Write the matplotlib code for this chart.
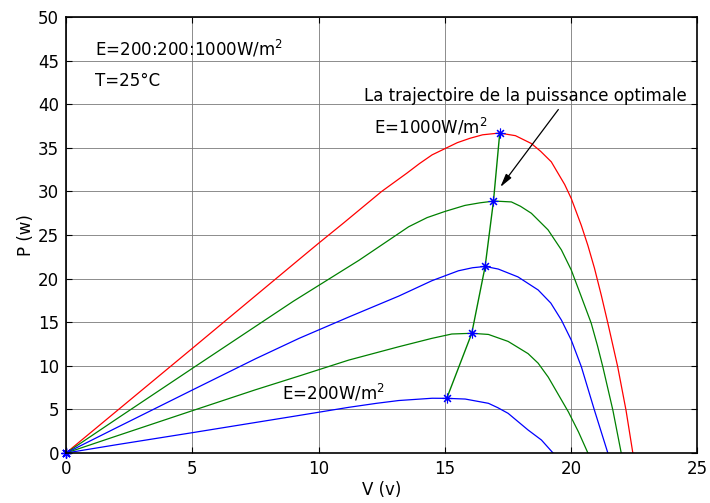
import matplotlib
matplotlib.use("Agg")
import matplotlib.pyplot as plt

plt.rcParams['font.family'] = ['DejaVu Sans']

# P-V curves, one pair of lists per irradiance
v_1000 = [0, 2, 5, 9.23, 10, 11, 12, 12.5, 13.5, 14, 14.5, 15, 15.5, 16, 16.5, 17.16, 17.8, 18.43, 18.8, 19.22, 19.75, 20.01, 20.41, 20.67, 20.93, 21.2, 21.46, 21.85, 22.18, 22.45]
p_1000 = [0, 4.8, 12.0, 22.2, 24.05, 26.4, 28.8, 30.0, 32.1, 33.2, 34.2, 34.9, 35.6, 36.1, 36.5, 36.7, 36.4, 35.5, 34.6, 33.4, 30.8, 29.2, 26.1, 23.8, 21.2, 18.1, 14.9, 9.9, 4.9, 0]

v_800 = [0, 2, 5, 9, 11.6, 13.57, 14.3, 15.0, 15.8, 16.4, 16.96, 17.64, 18.0, 18.43, 19.09, 19.62, 20.01, 20.4, 20.8, 21.05, 21.26, 21.66, 21.99]
p_800 = [0, 3.9, 9.7, 17.4, 22.1, 25.95, 27.0, 27.7, 28.4, 28.7, 28.9, 28.8, 28.3, 27.5, 25.6, 23.3, 21.0, 18.0, 14.9, 12.3, 9.9, 4.9, 0]

v_600 = [0, 2, 5, 7.5, 9.23, 11.2, 13.18, 14.49, 15.54, 16.1, 16.6, 17.12, 17.9, 18.7, 19.2, 19.62, 20.01, 20.41, 20.93, 21.46]
p_600 = [0, 2.9, 7.22, 10.8, 13.15, 15.6, 18.0, 19.76, 20.9, 21.25, 21.4, 21.1, 20.2, 18.7, 17.2, 15.25, 12.96, 9.9, 4.9, 0]

v_400 = [0, 2, 5, 7.5, 9.23, 11.2, 13.18, 14.49, 15.28, 16.07, 16.73, 17.51, 18.3, 18.7, 19.1, 19.5, 19.9, 20.3, 20.67]
p_400 = [0, 1.95, 4.85, 7.25, 8.83, 10.66, 12.19, 13.15, 13.65, 13.73, 13.6, 12.8, 11.4, 10.3, 8.7, 6.7, 4.7, 2.4, 0]

v_200 = [0, 2, 5, 9, 11.2, 12.3, 13.18, 14.5, 15.08, 15.81, 16.73, 17.1, 17.51, 18.3, 18.83, 19.29]
p_200 = [0, 0.95, 2.33, 4.2, 5.24, 5.7, 6.02, 6.28, 6.27, 6.19, 5.7, 5.2, 4.55, 2.64, 1.49, 0]

# maximum power points
v_mpp = [15.08, 16.07, 16.6, 16.93, 17.18]
p_mpp = [6.27, 13.73, 21.4, 28.9, 36.75]

fig = plt.figure(figsize=(7.1, 5.03), dpi=100)
ax = fig.add_axes([0.093, 0.0994, 0.889, 0.8666])

ax.plot(v_1000, p_1000, color='red', lw=0.9)
ax.plot(v_800, p_800, color='green', lw=0.9)
ax.plot(v_600, p_600, color='blue', lw=0.9)
ax.plot(v_400, p_400, color='green', lw=0.9)
ax.plot(v_200, p_200, color='blue', lw=0.9)

ax.plot(v_mpp, p_mpp, color='green', lw=1.0)
ax.plot(v_mpp, p_mpp, ls='none', marker=(8, 2, 0), ms=7, mec='blue', mew=0.8)
ax.plot([0] * 5, [0] * 5, ls='none', marker=(8, 2, 0), ms=7, mec='blue', mew=0.8, clip_on=False)

ax.set_xlim(0, 25)
ax.set_ylim(0, 50)
ax.set_xticks(range(0, 26, 5))
ax.set_yticks(range(0, 51, 5))
ax.grid(True, color='#7a7a7a', ls='-', lw=0.6)
ax.set_axisbelow(True)
ax.tick_params(direction='in', top=True, right=True, labelsize=12, length=4, pad=5)
for s in ax.spines.values():
    s.set_linewidth(1.2)

ax.set_xlabel('V (v)', fontsize=12, labelpad=2)
ax.set_ylabel('P (w)', fontsize=12, labelpad=2)

ax.text(1.15, 46.4, 'E=200:200:1000W/m$^2$', fontsize=12, va='center')
ax.text(1.15, 42.7, 'T=25°C', fontsize=12, va='center')
ax.text(12.2, 37.4, 'E=1000W/m$^2$', fontsize=12, va='center')
ax.text(8.55, 6.9, 'E=200W/m$^2$', fontsize=12, va='center')

ax.text(18.2, 40.9, 'La trajectoire de la puissance optimale', fontsize=12, ha='center', va='center')
ax.annotate('', xy=(17.2, 30.5), xytext=(19.5, 39.4),
            arrowprops=dict(arrowstyle='-|>,head_length=0.8,head_width=0.2', color='black', lw=0.9,
                            shrinkA=0, shrinkB=0))

fig.savefig('out.png', dpi=100)
